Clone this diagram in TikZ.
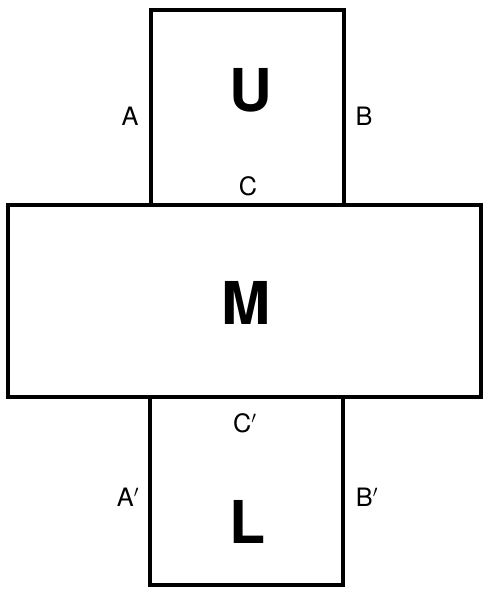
\documentclass[tikz,border=0pt]{standalone}
\usepackage{fontspec}
\setmainfont{TeX Gyre Heros}

\begin{document}
\begin{tikzpicture}[x=0.025cm,y=-0.025cm,
    part/.style={draw, line width=2.6pt, inner sep=0pt, font=\fontsize{42}{42}\selectfont\bfseries},
    edge/.style={inner sep=0pt, font=\fontsize{18}{18}\selectfont}]
        \useasboundingbox (0,0) rectangle (483,589);

        \node[part, minimum width=4.83cm, minimum height=4.87cm](upper) at (247.5,107.5){};
        \node[part, minimum width=11.83cm, minimum height=4.8cm](middle) at (244.5,301){};
        \node[part, minimum width=4.83cm, minimum height=4.7cm](lower) at (246.5,491){};

        \node[part, draw=none](u) at (251,90){U};
        \node[part, draw=none](m) at (246,303){M};
        \node[part, draw=none](l) at (248,522){L};

        \node[edge](a) at (130,116){A};
        \node[edge](b) at (364,116){B};
        \node[edge](c) at (248,186){C};
        \node[edge](cc) at (245,423){C$'$};
        \node[edge](aa) at (128,497){A$'$};
        \node[edge](bb) at (367,497){B$'$};
    \end{tikzpicture}
\end{document}
